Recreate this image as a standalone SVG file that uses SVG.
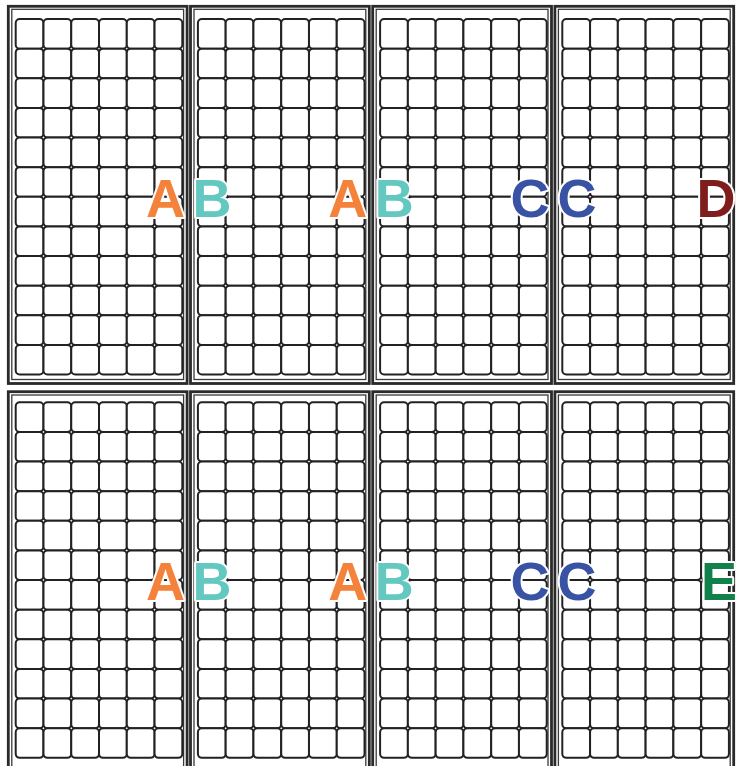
<svg xmlns="http://www.w3.org/2000/svg" xmlns:xlink="http://www.w3.org/1999/xlink" width="737" height="766" viewBox="0 0 737 766">
<style>
.cell{fill:#fff;stroke:#222;stroke-width:2}
.outer{fill:none;stroke:#2a2a2a;stroke-width:2.8}
.inner{fill:none;stroke:#3a3a3a;stroke-width:1.3}
.lbl{font-family:"Liberation Sans",Arial,Helvetica,sans-serif;font-weight:bold;font-size:54px;text-anchor:middle;stroke:#fff;stroke-width:4;stroke-linejoin:round;paint-order:stroke fill}
.a{fill:#F5823A}.b{fill:#63C8C0}.c{fill:#3953A4}.d{fill:#7F1D1D}.e{fill:#11804A}
</style>
<defs>
<g id="row">
<rect class="cell" x="0" y="0" width="27.77" height="29.63" rx="4"/>
<rect class="cell" x="27.77" y="0" width="27.77" height="29.63" rx="4"/>
<rect class="cell" x="55.54" y="0" width="27.77" height="29.63" rx="4"/>
<rect class="cell" x="83.31" y="0" width="27.77" height="29.63" rx="4"/>
<rect class="cell" x="111.08" y="0" width="27.77" height="29.63" rx="4"/>
<rect class="cell" x="138.85" y="0" width="27.77" height="29.63" rx="4"/>
</g>
<g id="grid">
<use xlink:href="#row" y="0"/>
<use xlink:href="#row" y="29.63"/>
<use xlink:href="#row" y="59.26"/>
<use xlink:href="#row" y="88.89"/>
<use xlink:href="#row" y="118.52"/>
<use xlink:href="#row" y="148.15"/>
<use xlink:href="#row" y="177.78"/>
<use xlink:href="#row" y="207.41"/>
<use xlink:href="#row" y="237.04"/>
<use xlink:href="#row" y="266.67"/>
<use xlink:href="#row" y="296.3"/>
<use xlink:href="#row" y="325.93"/>
</g>
<g id="frameTop">
<rect class="outer" x="0" y="0" width="178.8" height="377.2"/>
<rect class="inner" x="3.5" y="3" width="171.8" height="370.2"/>
</g>
<g id="frameBot">
<rect class="outer" x="0" y="0" width="178.8" height="420"/>
<rect class="inner" x="3.5" y="3.3" width="171.8" height="420"/>
</g>
</defs>
<rect x="0" y="0" width="737" height="766" fill="#fff"/>

<g id="panel-1">
<use xlink:href="#frameTop" x="8.3" y="6.3"/>
<use xlink:href="#grid" x="15.7" y="19"/>
</g>
<g id="panel-2">
<use xlink:href="#frameTop" x="190.5" y="6.3"/>
<use xlink:href="#grid" x="197.9" y="19"/>
</g>
<g id="panel-3">
<use xlink:href="#frameTop" x="372.7" y="6.3"/>
<use xlink:href="#grid" x="380.1" y="19"/>
</g>
<g id="panel-4">
<use xlink:href="#frameTop" x="554.9" y="6.3"/>
<use xlink:href="#grid" x="562.3" y="19"/>
</g>
<g id="panel-5">
<use xlink:href="#frameBot" x="8.3" y="391.7"/>
<use xlink:href="#grid" x="15.7" y="402.3"/>
</g>
<g id="panel-6">
<use xlink:href="#frameBot" x="190.5" y="391.7"/>
<use xlink:href="#grid" x="197.9" y="402.3"/>
</g>
<g id="panel-7">
<use xlink:href="#frameBot" x="372.7" y="391.7"/>
<use xlink:href="#grid" x="380.1" y="402.3"/>
</g>
<g id="panel-8">
<use xlink:href="#frameBot" x="554.9" y="391.7"/>
<use xlink:href="#grid" x="562.3" y="402.3"/>
</g>

<g id="labels">
<text class="lbl a" x="165.5" y="217">A</text>
<text class="lbl b" x="212" y="217">B</text>
<text class="lbl a" x="347.7" y="217">A</text>
<text class="lbl b" x="394.2" y="217">B</text>
<text class="lbl c" x="530" y="217">C</text>
<text class="lbl c" x="577" y="217">C</text>
<text class="lbl d" x="716" y="217">D</text>
<text class="lbl a" x="165.5" y="600">A</text>
<text class="lbl b" x="212" y="600">B</text>
<text class="lbl a" x="347.7" y="600">A</text>
<text class="lbl b" x="394.2" y="600">B</text>
<text class="lbl c" x="530" y="600">C</text>
<text class="lbl c" x="577" y="600">C</text>
<text class="lbl e" x="719" y="600">E</text>
</g>
</svg>
